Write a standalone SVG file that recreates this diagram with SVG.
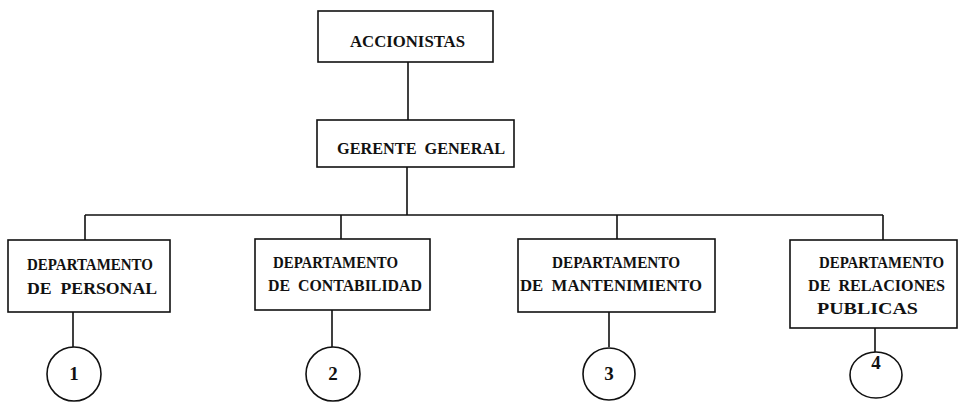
<svg xmlns="http://www.w3.org/2000/svg" width="960" height="403" viewBox="0 0 960 403">
<style>
.box{fill:#fff;stroke:#111;stroke-width:1.6}
.ln{fill:none;stroke:#111;stroke-width:1.6}
.t{font-family:"Liberation Serif","DejaVu Serif",serif;font-size:17px;fill:#111;font-weight:bold;white-space:pre}
.s{font-size:14px}
.n{font-family:"Liberation Serif","DejaVu Serif",serif;font-size:19px;fill:#111;font-weight:bold;text-anchor:middle}
</style>
<rect width="960" height="403" fill="#fff"/>
<g id="connectors">
<path class="ln" d="M408 62V120M407 167V215M85 215H883M85 215V240M341 215V239M617 215V239M883 215V240M73 312V347M332 310V347M609 312V347M875 328V352"/>
</g>
<g id="accionistas">
<rect class="box" x="318" y="11" width="175" height="51"/>
<text class="t" x="350" y="47" textLength="115" lengthAdjust="spacingAndGlyphs">ACCIONISTAS</text>
</g>
<g id="gerente">
<rect class="box" x="317" y="120" width="197" height="47"/>
<text class="t" x="337" y="154" textLength="168" lengthAdjust="spacingAndGlyphs" xml:space="preserve">GERENTE  GENERAL</text>
</g>
<g id="dep-personal">
<rect class="box" x="8" y="240" width="162" height="72"/>
<text class="t" x="27" y="270" textLength="126" lengthAdjust="spacingAndGlyphs">DEPARTAMENTO</text>
<text class="t" x="27" y="294" textLength="130" lengthAdjust="spacingAndGlyphs" xml:space="preserve">DE  PERSONAL</text>
</g>
<g id="dep-contabilidad">
<rect class="box" x="255" y="239" width="175" height="71"/>
<text class="t" x="273" y="268" textLength="125" lengthAdjust="spacingAndGlyphs">DEPARTAMENTO</text>
<text class="t" x="268" y="291" textLength="154" lengthAdjust="spacingAndGlyphs" xml:space="preserve">DE  CONTABILIDAD</text>
</g>
<g id="dep-mantenimiento">
<rect class="box" x="518" y="239" width="197" height="73"/>
<text class="t" x="552" y="268" textLength="128" lengthAdjust="spacingAndGlyphs">DEPARTAMENTO</text>
<text class="t" x="520" y="291" textLength="182" lengthAdjust="spacingAndGlyphs" xml:space="preserve">DE  MANTENIMIENTO</text>
</g>
<g id="dep-relaciones">
<rect class="box" x="790" y="240" width="167" height="88"/>
<text class="t s" transform="translate(819 268) scale(1 1.2)" x="0" y="0" textLength="125" lengthAdjust="spacingAndGlyphs">DEPARTAMENTO</text>
<text class="t s" transform="translate(808 291) scale(1 1.2)" x="0" y="0" textLength="137" lengthAdjust="spacingAndGlyphs" xml:space="preserve">DE  RELACIONES</text>
<text class="t s" transform="translate(817 314) scale(1 1.2)" x="0" y="0" textLength="101" lengthAdjust="spacingAndGlyphs">PUBLICAS</text>
</g>
<g id="c1">
<circle class="ln" cx="74" cy="374" r="27"/>
<text class="n" x="74" y="380">1</text>
</g>
<g id="c2">
<circle class="ln" cx="333" cy="374" r="27"/>
<text class="n" x="333" y="380">2</text>
</g>
<g id="c3">
<circle class="ln" cx="609" cy="374" r="26"/>
<text class="n" x="609" y="380">3</text>
</g>
<g id="c4">
<ellipse class="ln" cx="876" cy="375" rx="26" ry="23"/>
<text class="n" x="876" y="369">4</text>
</g>
</svg>
